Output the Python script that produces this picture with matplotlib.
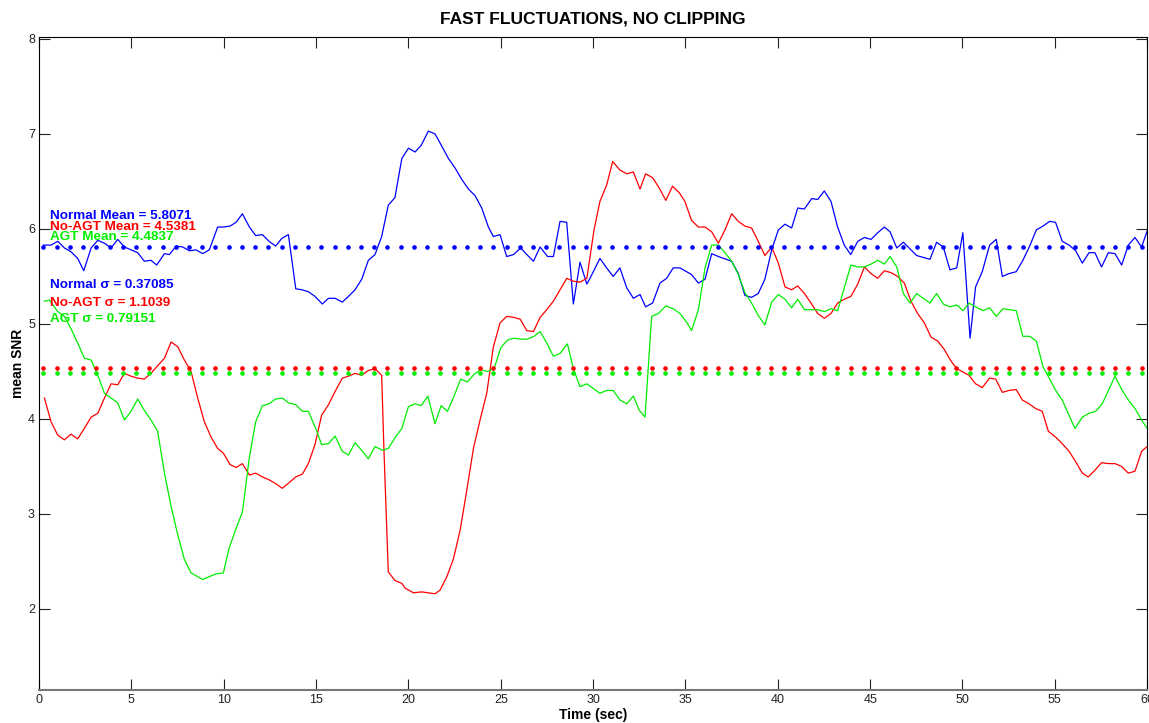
import numpy as np
import matplotlib
matplotlib.use("Agg")
import matplotlib.pyplot as plt

# values
normal_t = [0.24, 0.65, 1.01, 1.37, 1.73, 2.09, 2.42, 2.82, 3.18, 3.54, 3.90, 4.26, 4.62, 4.98,
            5.34, 5.70, 6.06, 6.37, 6.79, 7.06, 7.42, 7.78, 8.14, 8.50, 8.86, 9.22, 9.67, 9.98,
            10.34, 10.67, 11.01, 11.39, 11.73, 12.09, 12.45, 12.81, 13.14, 13.50, 13.90, 14.22,
            14.58, 14.94, 15.34, 15.67, 16.03, 16.42, 16.75, 17.11, 17.47, 17.83, 18.19, 18.55,
            18.91, 19.27, 19.64, 20.00, 20.36, 20.69, 21.08, 21.44, 21.81, 22.17, 22.53, 22.89,
            23.25, 23.61, 23.97, 24.33, 24.60, 24.96, 25.32, 25.69, 26.08, 26.41, 26.77, 27.13,
            27.53, 27.85, 28.21, 28.57, 28.93, 29.29, 29.66, 29.83, 30.37, 30.73, 31.09, 31.45,
            31.82, 32.18, 32.54, 32.84, 33.22, 33.62, 33.98, 34.34, 34.70, 35.33, 35.70, 36.06,
            36.42, 36.78, 37.50, 37.86, 38.22, 38.58, 38.94, 39.30, 39.67, 40.03, 40.39, 40.75,
            41.08, 41.44, 41.84, 42.16, 42.52, 42.88, 43.24, 43.60, 43.95, 44.33, 44.69, 45.05,
            45.41, 45.77, 46.08, 46.44, 46.80, 47.16, 47.52, 47.88, 48.24, 48.60, 48.96, 49.32,
            49.69, 50.02, 50.41, 50.71, 51.07, 51.47, 51.83, 52.16, 52.52, 52.91, 53.27, 53.64,
            54.00, 54.36, 54.72, 55.04, 55.40, 55.77, 56.13, 56.49, 56.85, 57.17, 57.53, 57.90,
            58.26, 58.62, 58.98, 59.34, 59.70, 60.0]
normal_snr = [5.83, 5.83, 5.87, 5.80, 5.76, 5.69, 5.56, 5.80, 5.88, 5.85, 5.80, 5.89, 5.81, 5.78,
              5.75, 5.66, 5.67, 5.62, 5.74, 5.73, 5.82, 5.81, 5.77, 5.78, 5.74, 5.78, 6.02, 6.02,
              6.03, 6.07, 6.16, 6.02, 5.93, 5.94, 5.87, 5.82, 5.90, 5.94, 5.37, 5.36,
              5.34, 5.29, 5.21, 5.27, 5.27, 5.23, 5.29, 5.36, 5.47, 5.67, 5.73, 5.92,
              6.25, 6.33, 6.74, 6.85, 6.81, 6.88, 7.03, 7.00, 6.87, 6.74, 6.64, 6.52,
              6.42, 6.35, 6.22, 6.02, 5.92, 5.94, 5.71, 5.73, 5.80, 5.73, 5.66, 5.81,
              5.71, 5.71, 6.08, 6.07, 5.21, 5.65, 5.42, 5.48, 5.69, 5.59, 5.50, 5.59,
              5.38, 5.27, 5.31, 5.18, 5.22, 5.43, 5.48, 5.59, 5.59, 5.52, 5.43, 5.47,
              5.74, 5.71, 5.66, 5.53, 5.30, 5.28, 5.32, 5.47, 5.78, 5.99, 6.05, 6.01,
              6.22, 6.21, 6.32, 6.31, 6.40, 6.29, 6.02, 5.83, 5.73, 5.87, 5.91, 5.89,
              5.96, 6.02, 5.97, 5.80, 5.86, 5.79, 5.72, 5.70, 5.68, 5.86, 5.81, 5.57,
              5.59, 5.96, 4.85, 5.39, 5.55, 5.83, 5.89, 5.50, 5.53, 5.55, 5.67, 5.82,
              5.99, 6.03, 6.08, 6.07, 5.87, 5.83, 5.77, 5.64, 5.75, 5.75, 5.60, 5.75,
              5.74, 5.62, 5.83, 5.91, 5.81, 5.98]

noagt_t = [0.29, 0.65, 1.01, 1.37, 1.73, 2.09, 2.45, 2.82, 3.18, 3.54, 3.90, 4.26, 4.62, 4.98,
           5.34, 5.70, 6.06, 6.42, 6.79, 7.15, 7.51, 7.87, 8.23, 8.59, 8.95, 9.31, 9.67, 9.98,
           10.34, 10.67, 11.01, 11.39, 11.73, 12.09, 12.45, 12.81, 13.17, 13.54, 13.90, 14.26,
           14.58, 14.94, 15.30, 15.67, 16.03, 16.42, 16.75, 17.11, 17.47, 17.83, 18.19, 18.55,
           18.68, 18.91, 19.27, 19.64, 19.82, 20.27, 20.72, 21.08, 21.44, 21.72, 22.08, 22.44,
           22.80, 23.16, 23.52, 23.88, 24.24, 24.60, 24.96, 25.32, 25.69, 26.05, 26.41, 26.77,
           27.13, 27.49, 27.85, 28.21, 28.57, 28.93, 29.29, 29.66, 30.05, 30.37, 30.73, 31.06,
           31.45, 31.82, 32.18, 32.54, 32.84, 33.22, 33.58, 33.94, 34.30, 34.67, 34.97, 35.33,
           35.70, 36.06, 36.42, 36.78, 37.14, 37.50, 37.86, 38.22, 38.58, 38.94, 39.30, 39.67,
           40.03, 40.39, 40.75, 41.08, 41.44, 41.80, 42.16, 42.52, 42.88, 43.24, 43.60, 43.96,
           44.33, 44.69, 45.05, 45.41, 45.77, 46.13, 46.49, 46.85, 47.21, 47.57, 47.94, 48.30,
           48.66, 49.02, 49.38, 49.69, 50.35, 50.71, 51.07, 51.47, 51.80, 52.16, 52.52, 52.91,
           53.24, 53.60, 53.96, 54.32, 54.65, 55.04, 55.40, 55.77, 56.13, 56.49, 56.81, 57.17,
           57.53, 57.90, 58.26, 58.62, 58.98, 59.34, 59.70, 60.0]
noagt_snr = [4.22, 3.97, 3.83, 3.78, 3.84, 3.79, 3.90, 4.02, 4.06, 4.22, 4.37, 4.36, 4.48, 4.45,
             4.43, 4.42, 4.48, 4.56, 4.64, 4.81, 4.76, 4.62, 4.50, 4.22, 3.97, 3.81, 3.69, 3.64,
             3.52, 3.49, 3.53, 3.41, 3.43, 3.39, 3.36, 3.32, 3.27, 3.33, 3.39, 3.42,
             3.53, 3.73, 4.04, 4.15, 4.29, 4.43, 4.45, 4.48, 4.46, 4.51, 4.53, 4.46,
             3.64, 2.39, 2.30, 2.27, 2.22, 2.17, 2.18, 2.17, 2.16, 2.20, 2.34, 2.53,
             2.83, 3.25, 3.69, 3.99, 4.27, 4.76, 5.01, 5.08, 5.07, 5.05, 4.93, 4.92,
             5.07, 5.15, 5.24, 5.36, 5.48, 5.45, 5.44, 5.48, 5.99, 6.29, 6.46, 6.71,
             6.62, 6.58, 6.60, 6.42, 6.58, 6.54, 6.43, 6.30, 6.45, 6.38, 6.29, 6.09,
             6.02, 6.02, 5.97, 5.85, 5.99, 6.16, 6.08, 6.03, 6.01, 5.87, 5.72, 5.81,
             5.64, 5.39, 5.36, 5.40, 5.32, 5.22, 5.11, 5.06, 5.11, 5.22, 5.26, 5.29,
             5.42, 5.60, 5.53, 5.48, 5.56, 5.54, 5.50, 5.43, 5.24, 5.11, 5.01, 4.86,
             4.82, 4.73, 4.61, 4.53, 4.46, 4.37, 4.33, 4.43, 4.42, 4.28, 4.30, 4.31,
             4.20, 4.16, 4.11, 4.08, 3.87, 3.81, 3.74, 3.66, 3.55, 3.43, 3.39, 3.46,
             3.54, 3.53, 3.53, 3.50, 3.43, 3.45, 3.66, 3.71]

agt_t = [0.29, 0.56, 1.01, 1.37, 1.73, 2.09, 2.45, 2.82, 3.18, 3.54, 3.90, 4.26, 4.62, 4.98,
         5.34, 5.70, 6.06, 6.42, 6.79, 7.15, 7.51, 7.87, 8.23, 8.59, 8.86, 9.22, 9.58, 9.98,
         10.29, 10.67, 11.01, 11.39, 11.73, 12.09, 12.45, 12.81, 13.17, 13.50, 13.90, 14.26,
         14.58, 14.98, 15.30, 15.67, 16.03, 16.42, 16.75, 17.11, 17.47, 17.83, 18.19, 18.59,
         18.91, 19.27, 19.64, 20.00, 20.36, 20.69, 21.05, 21.44, 21.77, 22.11, 22.47, 22.83,
         23.19, 23.56, 23.92, 24.28, 24.64, 25.00, 25.36, 25.72, 26.08, 26.44, 26.80, 27.13,
         27.49, 27.85, 28.21, 28.61, 28.93, 29.29, 29.66, 30.37, 30.73, 31.09, 31.45, 31.82,
         32.18, 32.50, 32.81, 33.17, 33.53, 33.94, 34.34, 34.70, 35.06, 35.33, 35.70, 36.06,
         36.42, 36.78, 37.14, 37.50, 37.86, 38.22, 38.58, 38.94, 39.30, 39.67, 40.03, 40.39,
         40.75, 41.08, 41.44, 41.80, 42.16, 42.52, 42.88, 43.24, 43.60, 43.96, 44.33, 44.69,
         45.05, 45.41, 45.77, 46.08, 46.44, 46.80, 47.16, 47.52, 47.88, 48.24, 48.60, 48.96,
         49.32, 49.69, 50.03, 50.35, 50.71, 51.11, 51.47, 51.83, 52.19, 52.55, 52.91, 53.27,
         53.64, 54.00, 54.36, 54.72, 55.08, 55.40, 55.77, 56.09, 56.49, 56.85, 57.21, 57.57,
         57.90, 58.26, 58.62, 58.98, 59.34, 59.70, 60.0]
agt_snr = [5.24, 5.25, 5.13, 5.08, 4.95, 4.80, 4.64, 4.62, 4.46, 4.27, 4.22, 4.17, 3.99, 4.08,
           4.21, 4.09, 3.99, 3.87, 3.43, 3.08, 2.78, 2.52, 2.38, 2.34, 2.31, 2.34, 2.37, 2.38,
           2.64, 2.85, 3.02, 3.60, 3.97, 4.14, 4.16, 4.21, 4.22, 4.17, 4.15, 4.08,
           4.08, 3.90, 3.73, 3.74, 3.82, 3.66, 3.62, 3.75, 3.67, 3.58, 3.71, 3.67,
           3.69, 3.80, 3.90, 4.13, 4.16, 4.14, 4.24, 3.95, 4.14, 4.08, 4.24, 4.42,
           4.39, 4.47, 4.52, 4.50, 4.53, 4.75, 4.83, 4.85, 4.84, 4.84, 4.87, 4.92,
           4.80, 4.66, 4.69, 4.79, 4.53, 4.34, 4.37, 4.27, 4.30, 4.30, 4.20, 4.16,
           4.24, 4.09, 4.02, 5.08, 5.11, 5.19, 5.16, 5.11, 5.02, 4.93, 5.15, 5.59,
           5.83, 5.83, 5.75, 5.66, 5.52, 5.33, 5.22, 5.09, 4.99, 5.23, 5.31, 5.26,
           5.17, 5.26, 5.15, 5.15, 5.15, 5.13, 5.16, 5.14, 5.38, 5.62, 5.60, 5.60,
           5.63, 5.67, 5.63, 5.71, 5.60, 5.32, 5.22, 5.32, 5.27, 5.22, 5.32, 5.21,
           5.18, 5.20, 5.14, 5.22, 5.18, 5.14, 5.17, 5.08, 5.16, 5.15, 5.14, 4.87,
           4.87, 4.82, 4.55, 4.42, 4.29, 4.20, 4.04, 3.90, 4.02, 4.06, 4.08, 4.16,
           4.30, 4.45, 4.31, 4.20, 4.11, 3.99, 3.90]

means = [5.8071, 4.5381, 4.4837]
sigmas = [0.37085, 1.1039, 0.79151]
names = ['Normal', 'No-AGT', 'AGT']
colors = ['#0000ff', '#ff0000', '#00ee00']


def main():
    fig = plt.figure(figsize=(11.49, 7.23), dpi=100)
    ax = fig.add_axes([0.034, 0.0456, 0.9644, 0.9032])

    series = [(normal_t, normal_snr), (noagt_t, noagt_snr), (agt_t, agt_snr)]
    for (t, v), c in zip(series, colors):
        ax.plot(t, v, color=c, lw=0.9)

    # dotted mean lines
    dot_t = np.linspace(0.24, 59.7, 84)
    for m, c in zip(means, colors):
        ax.plot(dot_t, np.full(len(dot_t), m), ls='none', marker='o', ms=2.3, color=c)

    # stats text
    mean_y = [6.14, 6.025, 5.915]
    sig_y = [5.41, 5.225, 5.055]
    for i in range(3):
        ax.text(0.6, mean_y[i], '%s Mean = %s' % (names[i], means[i]), color=colors[i],
                fontsize=9.7, fontweight='bold', va='center', family='Liberation Sans')
        ax.text(0.6, sig_y[i], '%s \u03c3 = %s' % (names[i], sigmas[i]), color=colors[i],
                fontsize=9.7, fontweight='bold', va='center', family='Liberation Sans')

    ax.set_xlim(0, 60)
    ax.set_ylim(1.147, 8.02)
    ax.set_xticks(range(0, 61, 5))
    ax.set_yticks(range(2, 9))
    ax.tick_params(direction='in', length=8, width=0.8, top=True, right=True,
                   labelsize=9, colors='#222222', pad=3)
    for lab in ax.get_xticklabels() + ax.get_yticklabels():
        lab.set_family('Liberation Sans')
    for s in ['top', 'left', 'right']:
        ax.spines[s].set_color('black')
        ax.spines[s].set_linewidth(0.8)
    ax.spines['bottom'].set_color('#777777')
    ax.spines['bottom'].set_linewidth(1.5)

    ax.set_title('FAST FLUCTUATIONS, NO CLIPPING', fontsize=12.5, fontweight='bold',
                 family='Liberation Sans', pad=10)
    ax.set_xlabel('Time (sec)', fontsize=10, fontweight='bold', family='Liberation Sans',
                  labelpad=1)
    ax.set_ylabel('mean SNR', fontsize=10, fontweight='bold', family='Liberation Sans',
                  labelpad=2)

    fig.savefig('out.png', dpi=100)


if __name__ == "__main__":
    main()
